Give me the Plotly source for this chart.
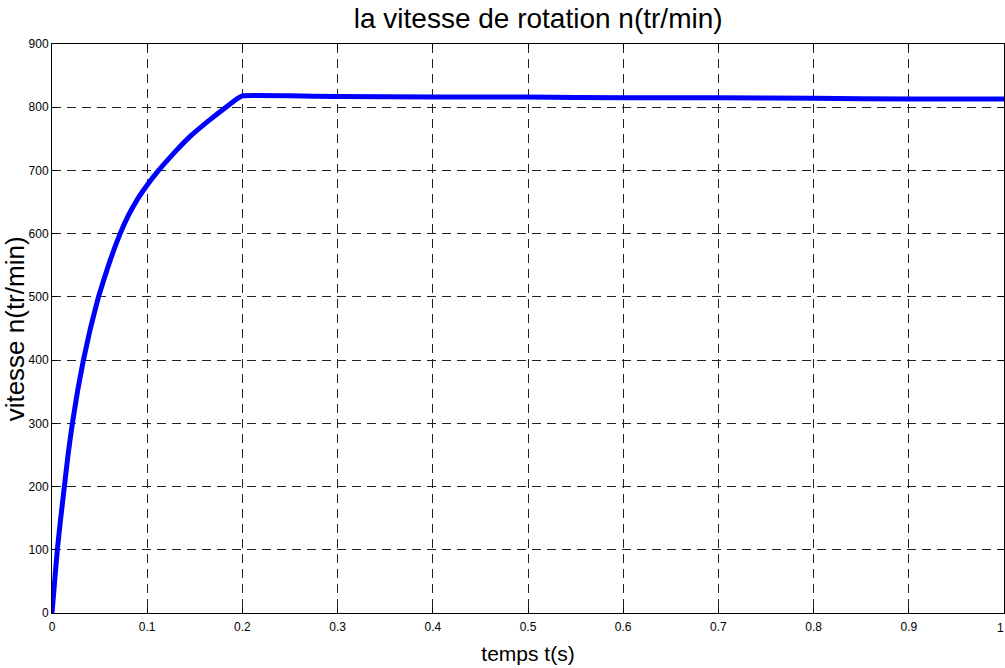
import plotly.graph_objects as go

# Data
t_s = [0, 0.0025, 0.0056, 0.009, 0.013, 0.017, 0.0214, 0.027, 0.033, 0.04, 0.0488,
       0.06, 0.0716, 0.08, 0.09, 0.1, 0.112, 0.129, 0.146, 0.164, 0.181, 0.195,
       0.2, 0.25, 0.3, 0.4, 0.5, 0.6, 0.7, 0.8, 0.9, 1.0]
speed = [0, 45, 100, 148, 200, 252, 300, 352, 400, 448, 500,
         553, 600, 628, 655, 677, 700, 729, 755, 778, 798, 814,
         818, 818, 817, 816, 816, 815, 815, 814, 813, 813]

x_ticks = [0, 0.1, 0.2, 0.3, 0.4, 0.5, 0.6, 0.7, 0.8, 0.9, 1]
x_labels = ["0", "0.1", "0.2", "0.3", "0.4", "0.5", "0.6", "0.7", "0.8", "0.9", "1"]
y_ticks = [0, 100, 200, 300, 400, 500, 600, 700, 800, 900]

FONT = "Liberation Sans Narrow, Arial Narrow, Liberation Sans, Arial, sans-serif"

fig = go.Figure()
fig.add_trace(go.Scatter(x=t_s, y=speed, mode="lines",
                         line=dict(color="#0000ff", width=5, shape="spline", smoothing=0.3),
                         showlegend=False))

axis_common = dict(showline=True, linecolor="black", linewidth=1, mirror="ticks",
                   ticks="inside", ticklen=5, tickcolor="black", automargin=False,
                   showgrid=True, gridcolor="#222222", griddash="9px,6px", gridwidth=1,
                   zeroline=False, tickfont=dict(family=FONT, size=12, color="black"))

fig.update_xaxes(range=[0, 1], tickvals=x_ticks[:-1], ticktext=x_labels[:-1], ticklabelstandoff=3,
                 title=dict(text="temps t(s)", font=dict(family=FONT, size=21, color="black"), standoff=12),
                 **axis_common)
fig.update_yaxes(range=[0, 900], tickvals=y_ticks, **axis_common)

# y-axis title placed as a rotated annotation so it sits at the reference's left edge
fig.add_annotation(x=-0.039, y=0.5, xref="paper", yref="paper", text="vitesse n(tr/min)",
                   textangle=-90, showarrow=False, xanchor="center", yanchor="middle",
                   font=dict(family=FONT, size=26, color="black"))

# the last x tick label sits on the figure edge; place it explicitly so it stays visible
fig.add_annotation(x=x_ticks[-1], y=0, xref="x", yref="y", text=x_labels[-1],
                   showarrow=False, yanchor="top", xanchor="right", xshift=2, yshift=-6,
                   font=dict(family=FONT, size=12, color="black"))

fig.update_layout(
    width=1005, height=668,
    margin=dict(l=52, r=1, t=44, b=55),
    paper_bgcolor="white", plot_bgcolor="white",
    title=dict(text="la vitesse de rotation n(tr/min)", x=0.5355, xanchor="center",
               y=0.973, yanchor="middle",
               font=dict(family=FONT, size=28, color="black")),
)

fig.write_html("out.html", config={"displayModeBar": False},
               post_script="document.body.style.margin='0px';document.body.style.overflow='hidden';")
